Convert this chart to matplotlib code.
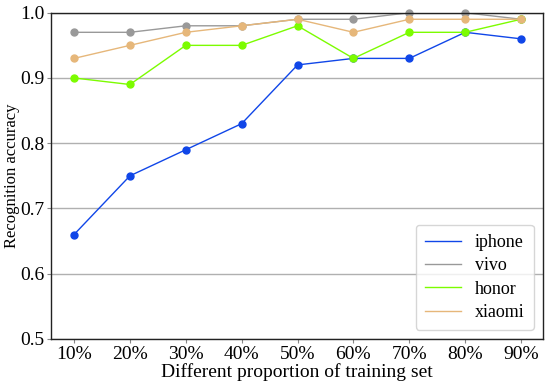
import matplotlib
matplotlib.use("Agg")
import matplotlib.pyplot as plt

categories = ["10%", "20%", "30%", "40%", "50%", "60%", "70%", "80%", "90%"]
iphone = [0.66, 0.75, 0.79, 0.83, 0.92, 0.93, 0.93, 0.97, 0.96]
vivo = [0.97, 0.97, 0.98, 0.98, 0.99, 0.99, 1.00, 1.00, 0.99]
honor = [0.90, 0.89, 0.95, 0.95, 0.98, 0.93, 0.97, 0.97, 0.99]
xiaomi = [0.93, 0.95, 0.97, 0.98, 0.99, 0.97, 0.99, 0.99, 0.99]
yticks = [0.5, 0.6, 0.7, 0.8, 0.9, 1.0]

plt.rcParams['font.family'] = ['Liberation Serif', 'DejaVu Serif']

fig = plt.figure(figsize=(5.5, 3.86), dpi=100)
ax = fig.add_axes([0.093, 0.122, 0.894, 0.845])

x = list(range(len(categories)))
series = [("iphone", iphone, "#1046e8"), ("vivo", vivo, "#999999"),
          ("honor", honor, "#7cfc00"), ("xiaomi", xiaomi, "#e6b77a")]
for name, vals, c in series:
    ax.plot(x, vals, color=c, lw=1.0, label=name)
    ax.plot(x, vals, 'o', color=c, ms=5, clip_on=False)

ax.set_ylim(0.5, 1.0)
ax.set_xlim(-0.41, 8.39)
ax.set_yticks(yticks)
ax.set_yticklabels([f"{v:.1f}" for v in yticks])
ax.set_xticks(x)
ax.set_xticklabels(categories)
ax.tick_params(length=3, width=0.8, color="#888888", labelsize=14, pad=2)
ax.yaxis.grid(True, color="#b0b0b0", lw=1.0)
ax.set_axisbelow(True)
for s in ax.spines.values():
    s.set_color("#222222")
    s.set_linewidth(1.0)
ax.set_xlabel("Different proportion of training set", fontsize=14, labelpad=0)
ax.set_ylabel("Recognition accuracy", fontsize=12)
ax.yaxis.set_label_coords(-0.064, 0.5)
leg = ax.legend(loc="lower right", fontsize=13, frameon=True, fancybox=True,
                borderpad=0.5, labelspacing=0.35, handlelength=2.0,
                borderaxespad=0.5)
leg.get_frame().set_edgecolor("#cccccc")

fig.savefig("out.png", dpi=100)
